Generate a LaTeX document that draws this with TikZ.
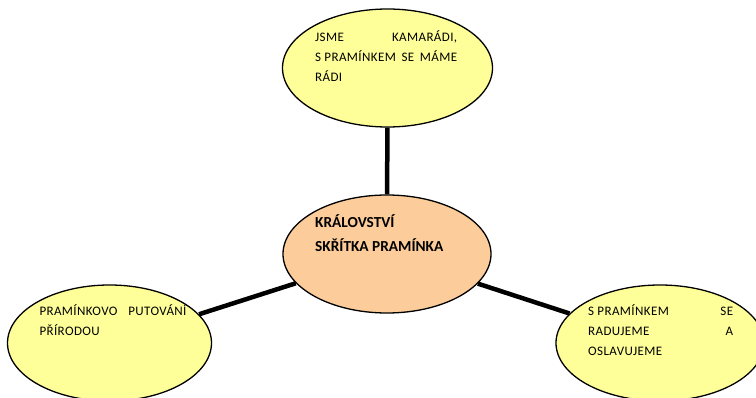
\documentclass[tikz,border=0pt]{standalone}
\usepackage{fontspec}
\setmainfont{Carlito}
\newfontfamily\smallfont[LetterSpace=3]{Carlito}
\usetikzlibrary{shapes.geometric}
\definecolor{bubyellow}{RGB}{255,255,153}
\definecolor{bubpeach}{RGB}{252,204,154}
\tikzset{
  bubble/.style={ellipse, draw=black, line width=1.3pt, inner sep=0pt},
  smalltext/.style={anchor=base west, inner sep=0pt, font=\smallfont\fontsize{13}{20}\selectfont},
  bigtext/.style={anchor=base west, inner sep=0pt, font=\fontsize{15.3}{24}\selectfont\bfseries},
  link/.style={line width=4.5pt}
}
\begin{document}
\begin{tikzpicture}[x=1pt,y=-1pt]
\useasboundingbox (0,0) rectangle (756,398);
\node[bubble, fill=bubyellow, minimum width=210pt, minimum height=118pt] (top) at (387.5,68) {};
\node[bubble, fill=bubpeach, minimum width=208pt, minimum height=118pt] (center) at (387,254) {};
\node[bubble, fill=bubyellow, minimum width=204pt, minimum height=116pt] (left) at (109.5,343) {};
\node[bubble, fill=bubyellow, minimum width=208pt, minimum height=116pt] (right) at (660,343) {};
\draw[link] (top) -- (center);
\draw[link] (center) -- (left);
\draw[link] (center) -- (right);
\node[smalltext] (toptext) at (315,42) {\parbox[t]{142pt}{%
  \makebox[142pt][s]{JSME\hfill KAMARÁDI,}\\
  \makebox[142pt][s]{S PRAMÍNKEM\hfill SE\hfill MÁME}\\
  RÁDI}};
\node[bigtext] (centertext) at (315,228) {\parbox[t]{160pt}{KRÁLOVSTVÍ\\ SKŘÍTKA PRAMÍNKA}};
\node[smalltext] (lefttext) at (39.3,316) {\parbox[t]{147pt}{%
  \makebox[147pt][s]{PRAMÍNKOVO\hfill PUTOVÁNÍ}\\
  PŘÍRODOU}};
\node[smalltext] (righttext) at (588,316) {\parbox[t]{145pt}{%
  \makebox[145pt][s]{S PRAMÍNKEM\hfill SE}\\
  \makebox[145pt][s]{RADUJEME\hfill A}\\
  OSLAVUJEME}};
\end{tikzpicture}
\end{document}
